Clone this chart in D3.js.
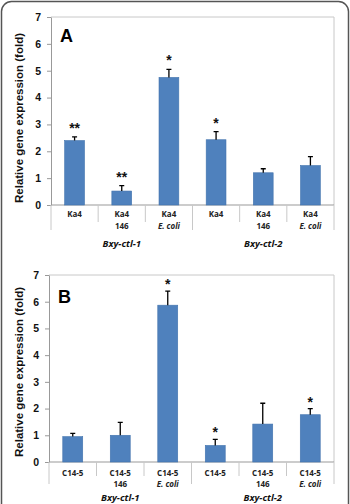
<!DOCTYPE html>
<html>
<head>
<meta charset="utf-8">
<script src="https://cdn.jsdelivr.net/npm/d3@7"></script>
<style>
  html, body { margin: 0; padding: 0; background: #fff; }
  svg { display: block; }
</style>
</head>
<body>
<div id="chart"></div>
<script>
// data
const groupNames = ['Bxy-ctl-1', 'Bxy-ctl-2']
const catTopA = ['Ka4', 'Ka4', 'Ka4', 'Ka4', 'Ka4', 'Ka4']
const catTopB = ['C14-5', 'C14-5', 'C14-5', 'C14-5', 'C14-5', 'C14-5']
const catBottom = ['', '146', 'E. coli', '', '146', 'E. coli']
const valuesA = [2.4, 0.52, 4.75, 2.43, 1.2, 1.47]
const errorsA = [0.14, 0.2, 0.3, 0.3, 0.15, 0.33]
const starsA = ['**', '**', '*', '*', '', '']
const valuesB = [0.95, 1.0, 5.87, 0.62, 1.42, 1.77]
const errorsB = [0.12, 0.48, 0.53, 0.23, 0.78, 0.23]
const starsB = ['', '', '*', '*', '', '*']
const yTicks = [0, 1, 2, 3, 4, 5, 6, 7]

const width = 350
const height = 504
const blue = '#4f81bd'

const svg = d3.select('#chart').append('svg')
  .attr('width', width)
  .attr('height', height)
  .attr('viewBox', [0, 0, width, height])

// outer rounded frame (bottom runs off the picture)
svg.append('rect')
  .attr('x', 1.5).attr('y', 1.5)
  .attr('width', 347).attr('height', 520)
  .attr('rx', 10)
  .attr('fill', 'none')
  .attr('stroke', '#555')
  .attr('stroke-width', 1.5)

function drawPanel(p) {
  const g = svg.append('g')
  const x = d3.scaleBand().domain(d3.range(p.values.length)).range([p.left, p.right])
  const y = d3.scaleLinear().domain([0, 7]).range([p.bottom, p.top])
  const barW = x.bandwidth() * 0.42

  // plot area frame (top + right)
  g.append('path')
    .attr('d', `M${p.left},${y(7)}H${p.right}V${y(0)}`)
    .attr('fill', 'none')
    .attr('stroke', '#c8c8c8')
    .attr('stroke-width', 1)

  // y axis
  const ax = g.append('g')
    .attr('transform', `translate(${p.left},0)`)
    .call(d3.axisLeft(y).tickValues(yTicks).tickFormat(d3.format('d')).tickSize(4).tickSizeOuter(0).tickPadding(6))
  ax.select('.domain').attr('stroke', '#999')
  ax.selectAll('.tick line').attr('stroke', '#999')
  ax.selectAll('.tick text')
    .attr('fill', '#111')
    .style('font', 'bold 10.5px "Liberation Sans", Arial, sans-serif')

  g.append('text')
    .attr('transform', `translate(${p.titleX},${p.titleY}) rotate(-90)`)
    .attr('text-anchor', 'middle')
    .attr('dominant-baseline', 'middle')
    .attr('fill', '#111')
    .style('font', 'bold 11.5px "Liberation Sans", Arial, sans-serif')
    .text('Relative gene expression (fold)')

  // category axis
  g.append('line')
    .attr('x1', p.left).attr('x2', p.right)
    .attr('y1', y(0)).attr('y2', y(0))
    .attr('stroke', '#999')

  d3.range(p.values.length + 1).forEach((i) => {
    const xx = i < p.values.length ? x(i) : p.right
    const isGroup = i % 3 === 0
    g.append('line')
      .attr('x1', xx).attr('x2', xx)
      .attr('y1', y(0)).attr('y2', y(0) + (isGroup ? p.groupTick : p.catTick))
      .attr('stroke', '#c8c8c8')
  })

  g.selectAll('.cat1').data(p.catTop).join('text')
    .attr('x', (d, i) => x(i) + x.bandwidth() / 2)
    .attr('y', y(0) + p.line1)
    .attr('text-anchor', 'middle')
    .attr('fill', '#222')
    .style('font', 'bold 8px "Open Sans", sans-serif')
    .text((d) => d)

  g.selectAll('.cat2').data(catBottom).join('text')
    .attr('x', (d, i) => x(i) + x.bandwidth() / 2)
    .attr('y', y(0) + p.line2)
    .attr('text-anchor', 'middle')
    .attr('fill', '#222')
    .style('font', (d) => (d === 'E. coli' ? 'italic ' : '') + 'bold 8px "Open Sans", sans-serif')
    .text((d) => d)

  g.selectAll('.grp').data(groupNames).join('text')
    .attr('x', (d, i) => (x(i * 3) + x(i * 3 + 2) + x.bandwidth()) / 2)
    .attr('y', y(0) + p.line3)
    .attr('text-anchor', 'middle')
    .attr('fill', '#111')
    .style('font', 'italic bold 9.5px "Open Sans", sans-serif')
    .text((d) => d)

  // bars
  g.selectAll('.bar').data(p.values).join('rect')
    .attr('x', (d, i) => x(i) + (x.bandwidth() - barW) / 2)
    .attr('y', (d) => y(d))
    .attr('width', barW)
    .attr('height', (d) => y(0) - y(d))
    .attr('fill', blue)
    .attr('stroke', '#4273ad')
    .attr('stroke-width', 0.6)

  // error bars (upper only) and significance stars
  p.values.forEach((v, i) => {
    const cx = x(i) + x.bandwidth() / 2
    const top = y(v + p.errors[i])
    g.append('path')
      .attr('d', `M${cx},${y(v)}V${top}M${cx - 2.5},${top}H${cx + 2.5}`)
      .attr('stroke', '#000')
      .attr('stroke-width', 1.3)
      .attr('fill', 'none')
    if (p.stars[i]) {
      g.append('text')
        .attr('x', cx)
        .attr('y', top + p.starGap)
        .attr('text-anchor', 'middle')
        .attr('fill', '#111')
        .style('font', 'bold 14px "Liberation Sans", Arial, sans-serif')
        .text(p.stars[i])
    }
  })

  g.append('text')
    .attr('x', p.left + 9)
    .attr('y', p.labelY)
    .attr('fill', '#000')
    .style('font', 'bold 18px "Liberation Sans", Arial, sans-serif')
    .text(p.label)
}

drawPanel({
  label: 'A', labelY: 42,
  values: valuesA, errors: errorsA, stars: starsA, catTop: catTopA,
  left: 51, right: 334, top: 17, bottom: 205,
  titleX: 20, titleY: 118,
  catTick: 17, groupTick: 25, line1: 12, line2: 24, line3: 42,
  starGap: -4,
})

drawPanel({
  label: 'B', labelY: 303,
  values: valuesB, errors: errorsB, stars: starsB, catTop: catTopB,
  left: 49, right: 334, top: 275, bottom: 462,
  titleX: 20, titleY: 372,
  catTick: 14, groupTick: 22, line1: 14, line2: 25, line3: 39,
  starGap: -2,
})
</script>
</body>
</html>
